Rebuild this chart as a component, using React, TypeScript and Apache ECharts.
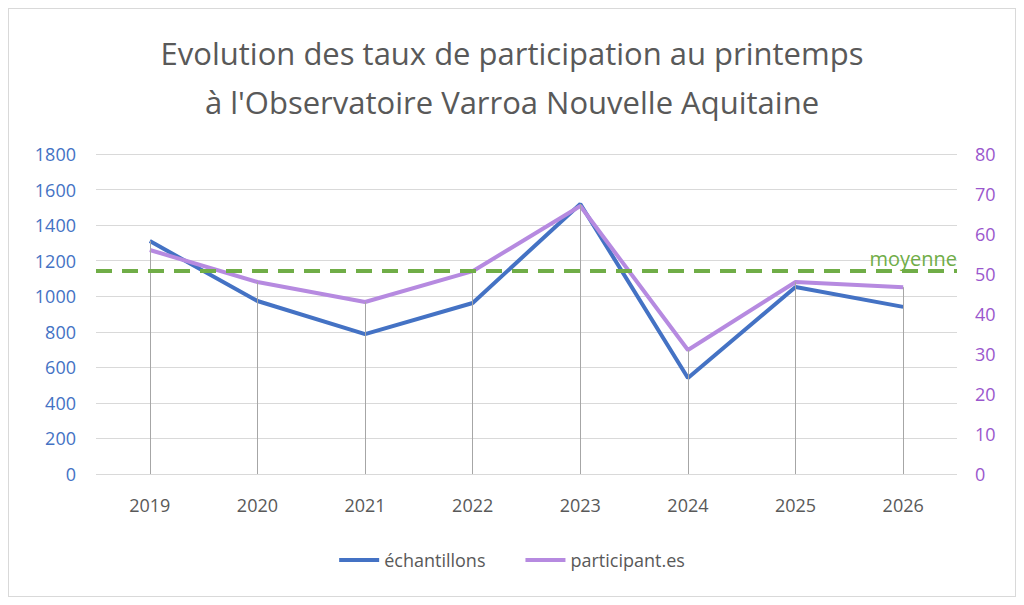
import React, { useEffect, useRef } from "react";
import * as echarts from "echarts";

const years = ["2019", "2020", "2021", "2022", "2023", "2024", "2025", "2026"];
const echantillons = [1310, 973, 787, 962, 1519, 540, 1052, 940];
const participants = [56, 48, 43, 50.7, 67, 31, 48, 46.7];
const moyenne = 1142;

export default function App() {
  const ref = useRef<HTMLDivElement>(null);
  useEffect(() => {
    const chart = echarts.init(ref.current!, undefined, { renderer: "svg" });
    const drop = years.map((_, i) => [
      { coord: [i, 0] },
      { coord: [i, Math.max(echantillons[i], participants[i] * 22.5)] },
    ]);
    chart.setOption({
      animation: false,
      textStyle: { fontFamily: "Open Sans" },
      title: {
        text: "Evolution des taux de participation au printemps\nà l'Observatoire Varroa Nouvelle Aquitaine",
        left: "center",
        top: 14,
        textStyle: { fontSize: 31, fontWeight: "normal", color: "#595959", lineHeight: 49, fontFamily: "Open Sans" },
      },
      legend: {
        bottom: 22,
        itemWidth: 40,
        itemGap: 40,
        icon: "rect",
        itemHeight: 4,
        textStyle: { fontSize: 18, color: "#595959" },
        data: ["échantillons", "participant.es"],
      },
      grid: { left: 87, right: 58, top: 145, bottom: 122 },
      xAxis: {
        type: "category",
        data: years,
        axisLine: { show: false },
        axisTick: { show: false },
        axisLabel: { fontSize: 18, color: "#595959", margin: 22 },
      },
      yAxis: [
        {
          type: "value", min: 0, max: 1800, interval: 200,
          axisLabel: { fontSize: 18, color: "#4472C4", margin: 20, formatter: (v: number) => String(v) },
          splitLine: { lineStyle: { color: "#D9D9D9" } },
        },
        {
          type: "value", min: 0, max: 80, interval: 10,
          axisLabel: { fontSize: 18, color: "#9A57CD", margin: 18 },
          splitLine: { show: false },
        },
      ],
      series: [
        {
          name: "échantillons", type: "line", data: echantillons, yAxisIndex: 0,
          symbol: "none", lineStyle: { width: 4, color: "#4472C4" }, itemStyle: { color: "#4472C4" }, z: 3,
          markLine: {
            silent: true, symbol: "none", label: { show: false },
            lineStyle: { color: "#A6A6A6", width: 1, type: "solid" },
            data: drop,
          },
        },
        {
          name: "participant.es", type: "line", data: participants, yAxisIndex: 1,
          symbol: "none", lineStyle: { width: 4, color: "#B68AE0" }, itemStyle: { color: "#B68AE0" }, z: 4,
        },
        {
          type: "line", data: [], yAxisIndex: 0, z: 5,
          markLine: {
            silent: true, symbol: "none",
            lineStyle: { color: "#70AD47", width: 4, type: [16, 10] },
            label: { position: "insideEndTop", formatter: "moyenne", color: "#70AD47", fontSize: 20, distance: [0, 2] },
            data: [{ yAxis: moyenne }],
          },
        },
      ],
    });
    return () => chart.dispose();
  }, []);
  return (
    <div style={{ width: 1008, height: 589, border: "1px solid #D9D9D9", boxSizing: "border-box" }}>
      <div ref={ref} style={{ width: 1006, height: 587 }} />
    </div>
  );
}
